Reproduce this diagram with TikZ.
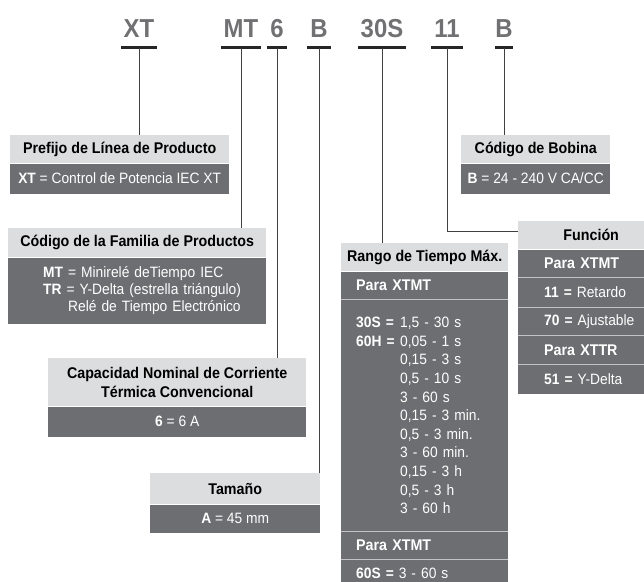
\documentclass[tikz,border=0pt]{standalone}
\usepackage{fontspec}
\setmainfont{Liberation Sans}[FakeStretch=0.92]
\usepackage{tikz}
\usetikzlibrary{positioning}

\definecolor{codegray}{HTML}{717173}
\definecolor{hdrgray}{HTML}{DCDDDE}
\definecolor{boxgray}{HTML}{6D6E71}
\definecolor{sepgray}{HTML}{C4C4C6}

\newcommand{\parafont}{\fontsize{15.5}{17}\selectfont\bfseries}

\tikzset{
  code/.style={font=\fontsize{26}{30}\selectfont\bfseries, text=codegray, inner xsep=3pt, inner ysep=0pt, anchor=base},
  uline/.style={line width=2.2pt, black!85},
  conn/.style={line width=1pt, black!75},
  hdr/.style={fill=hdrgray, font=\fontsize{15.5}{19}\selectfont\bfseries, text=black, inner sep=0pt, align=center, minimum height=28pt, anchor=north west},
  bdy/.style={fill=boxgray, font=\fontsize{15}{17}\selectfont, text=white, inner sep=0pt, align=center},
  row/.style={bdy, align=left, minimum height=28pt},
  sep/.style={line width=0.8pt, sepgray}
}

\begin{document}
\begin{tikzpicture}[x=1pt,y=-1pt]
    \useasboundingbox (0,0) rectangle (644,581);
    \clip (0,0) rectangle (644,581);
    % catalogue number
    \node[code] (cXT) at (139,37) {XT};
    \node[code] (cMT) at (241,37) {MT};
    \node[code] (cSix) at (277,37) {6};
    \node[code] (cSize) at (319,37) {B};
    \node[code] (cRange) at (382,37) {30S};
    \node[code] (cFun) at (447,37) {11};
    \node[code, inner xsep=0pt] (cCoil) at (504,37) {B};
    \foreach \c in {cXT,cMT,cSix,cSize,cRange,cFun,cCoil}
      \draw[uline] ([yshift=-10.5pt]\c.base west) -- ([yshift=-10.5pt]\c.base east);

    % Prefijo
    \node[hdr, minimum width=219pt] (hPre) at (10,135) {Prefijo de Línea de Producto};
    \node[bdy, minimum width=219pt, minimum height=30pt, below=0pt of hPre] (bPre)
      {\textbf{XT} = Control de Potencia IEC XT};
    % Familia
    \node[hdr, minimum width=258pt, minimum height=29pt] (hFam) at (8,228) {Código de la Familia de Productos};
    \node[bdy, align=left, text width=258pt, minimum height=66pt, below=0pt of hFam] (bFam)
      {\hspace*{35pt}\textbf{MT} = Minirelé deTiempo IEC\\
       \hspace*{35pt}\textbf{TR} = Y-Delta (estrella triángulo)\\
       \hspace*{60pt}Relé de Tiempo Electrónico};
    % Capacidad
    \node[hdr, minimum width=258pt, minimum height=48pt] (hCap) at (48,358)
      {Capacidad Nominal de Corriente\\Térmica Convencional};
    \node[bdy, minimum width=258pt, minimum height=30pt, below=0pt of hCap] (bCap) {\textbf{6} = 6 A};
    % Tamano
    \node[hdr, minimum width=170pt, minimum height=31pt] (hTam) at (150,473) {Tamaño};
    \node[bdy, minimum width=170pt, minimum height=28pt, below=0pt of hTam] (bTam) {\textbf{A} = 45 mm};
    % Bobina
    \node[hdr, minimum width=149pt] (hBob) at (461,135) {Código de Bobina};
    \node[bdy, minimum width=149pt, minimum height=30pt, below=0pt of hBob] (bBob)
      {\textbf{B} = 24 - 240 V CA/CC};
    % Rango
    \node[hdr, minimum width=167pt] (hRan) at (341,243) {Rango de Tiempo Máx.};
    \node[row, text width=137pt, inner xsep=15pt, font=\parafont, below=0pt of hRan] (pRanA) {Para XTMT};
    \node[row, text width=137pt, inner xsep=15pt, minimum height=231pt, font=\fontsize{15}{18.6}\selectfont, below=0pt of pRanA] (bRan)
      {\makebox[44pt][l]{\textbf{30S =}}1,5 - 30 s\\
       \makebox[44pt][l]{\textbf{60H =}}0,05 - 1 s\\
       \hspace*{44pt}0,15 - 3 s\\
       \hspace*{44pt}0,5 - 10 s\\
       \hspace*{44pt}3 - 60 s\\
       \hspace*{44pt}0,15 - 3 min.\\
       \hspace*{44pt}0,5 - 3 min.\\
       \hspace*{44pt}3 - 60 min.\\
       \hspace*{44pt}0,15 - 3 h\\
       \hspace*{44pt}0,5 - 3 h\\
       \hspace*{44pt}3 - 60 h};
    \node[row, text width=137pt, inner xsep=15pt, font=\parafont, below=0pt of bRan] (pRanB) {Para XTMT};
    \node[row, text width=137pt, inner xsep=15pt, below=0pt of pRanB] (bRanB) {\textbf{60S =} 3 - 60 s};
    \draw[sep] (pRanA.south west) -- (pRanA.south east);
    \draw[sep] (bRan.south west) -- (bRan.south east);
    \draw[sep] (pRanB.south west) -- (pRanB.south east);
    % Funcion
    \node[hdr, minimum width=146pt] (hFun) at (518,221) {Función};
    \node[row, text width=94pt, inner xsep=26pt, font=\parafont, below=0pt of hFun] (pFunA) {Para XTMT};
    \node[row, text width=94pt, inner xsep=26pt, minimum height=29pt, below=0pt of pFunA] (rFunA) {\textbf{11 =} Retardo};
    \node[row, text width=94pt, inner xsep=26pt, below=0pt of rFunA] (rFunB) {\textbf{70 =} Ajustable};
    \node[row, text width=94pt, inner xsep=26pt, font=\parafont, below=0pt of rFunB] (pFunB) {Para XTTR};
    \node[row, text width=94pt, inner xsep=26pt, minimum height=30pt, below=0pt of pFunB] (rFunC) {\textbf{51 =} Y-Delta};
    \foreach \r in {pFunA,rFunA,rFunB,pFunB}
      \draw[sep] (\r.south west) -- (\r.south east);

    % connectors
    \draw[conn] ([yshift=-10.5pt]cXT.base) -- (cXT.base |- hPre.north);
    \draw[conn] ([yshift=-10.5pt]cMT.base) -- (cMT.base |- hFam.north);
    \draw[conn] ([yshift=-10.5pt]cSix.base) -- (cSix.base |- hCap.north);
    \draw[conn] ([yshift=-10.5pt]cSize.base) -- (cSize.base |- hTam.north);
    \draw[conn] ([yshift=-10.5pt]cRange.base) -- (cRange.base |- hRan.north);
    \draw[conn] ([yshift=-10.5pt]cFun.base) |- ([yshift=4pt]hFun.west);
    \draw[conn] ([yshift=-10.5pt]cCoil.base) -- (cCoil.base |- hBob.north);
  \end{tikzpicture}
\end{document}
